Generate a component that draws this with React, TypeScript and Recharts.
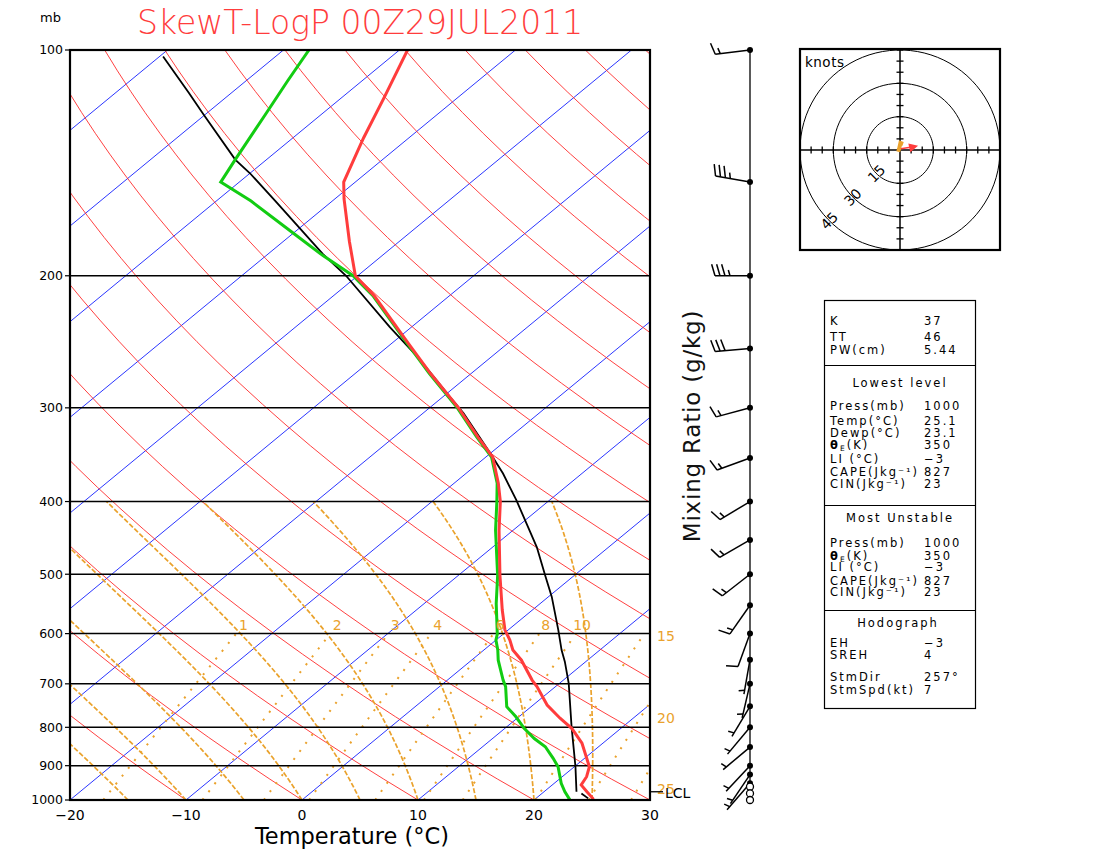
import React from 'react';
import { ComposedChart, Line, Scatter, XAxis, YAxis, ReferenceLine } from 'recharts';

const FONT = '"DejaVu Sans", "Liberation Sans", sans-serif';
const ORANGE = '#eaa22c';
const BLUE = '#2b36ff';
const RED_THIN = '#ff2b2b';
const TEMP_RED = '#ff3c3c';
const DEW_GREEN = '#12cc12';

// ---------------- axes ----------------
const tempTicks = [-20, -10, 0, 10, 20, 30];
const presTicks = [100, 200, 300, 400, 500, 600, 700, 800, 900, 1000];
const presLines = [200, 300, 400, 500, 600, 700, 800, 900];

// ---------------- diagram background (values of the reference lines) ----------------
const isotherms = [-90, -80, -70, -60, -50, -40, -30, -20, -10, 0, 10, 20];
const dryAdiabats = [-20, -10, 0, 10, 20, 30, 40, 50, 60, 70, 80, 90, 100, 110, 120, 130, 140, 150, 160];
const moistAdiabats = [-15, -10, -5, 0, 5, 10, 15, 20, 25];
const mixingRatios = [1, 2, 3, 4, 6, 8, 10, 15, 20, 25];
const mixLabelsInside = [1, 2, 3, 4, 6, 8, 10];
const mixLabelsOutside = [15, 20, 25];
const mixLabelsOutsideP = [604, 778, 968];
const lclP = 975;

// ---------------- sounding ----------------
const tempP = [1000, 995, 975, 955, 931, 903, 840, 803, 778, 747, 706, 692, 651, 631, 612, 593, 558, 502, 437, 400, 378, 349, 328, 300, 270, 246, 213, 200, 180, 158, 150, 131, 116, 100];
const tempC = [25.1, 24.9, 23.7, 22.5, 22.1, 21.3, 18.2, 15.8, 13.7, 11.2, 8.4, 7.3, 4.3, 2.5, 1.2, -0.3, -2.6, -6.4, -11.2, -14.1, -16.2, -19.4, -22.8, -27.5, -33.5, -38.6, -46.4, -50.2, -54.3, -59.2, -61.0, -63.9, -66.3, -69.3];

const dewP = [1000, 998, 975, 950, 903, 880, 849, 828, 803, 774, 751, 706, 692, 651, 631, 612, 601, 547, 502, 437, 400, 378, 349, 328, 300, 270, 246, 213, 200, 188, 175, 159, 150, 140, 122, 110, 100];
const dewC = [23.1, 23.0, 21.8, 20.6, 18.6, 17.3, 15.4, 13.6, 11.7, 9.7, 7.9, 5.7, 4.8, 2.3, 1.2, 0.0, -0.5, -3.8, -6.6, -11.5, -14.4, -16.3, -19.5, -22.9, -27.6, -33.6, -38.7, -46.5, -50.4, -55.1, -60.2, -67.0, -71.6, -72.7, -74.8, -76.4, -77.8];

const parcelP = [975, 903, 799, 699, 654, 631, 593, 536, 502, 460, 398, 367, 345, 305, 290, 259, 234, 200, 187, 173, 159, 146, 140, 122, 114, 102];
const parcelC = [22.8, 20.1, 15.6, 10.8, 8.2, 6.7, 4.3, 0.3, -2.5, -6.2, -12.9, -16.8, -20.0, -26.5, -29.4, -35.8, -41.9, -51.0, -55.3, -59.9, -64.9, -70.0, -72.7, -80.1, -83.7, -89.7];
const dryParcelP = [995, 980];
const dryParcelC = [24.5, 23.4];

// ---------------- winds ----------------
const windP = [100, 150, 200, 250, 300, 350, 400, 450, 500, 550, 600, 650, 700, 750, 800, 850, 900, 925, 950];
const windDir = [263, 280, 270, 265, 255, 250, 239, 240, 232, 215, 200, 190, 193, 211, 220, 230, 223, 214, 221];
const windSpd = [15, 35, 35, 30, 15, 15, 15, 15, 15, 15, 10, 5, 5, 5, 5, 5, 5, 5, 5];
const calmP = [960, 980, 1000];

// ---------------- hodograph ----------------
const hodoRings = [15, 30, 45];
const hodoU = [-0.8, -0.4, 0.2, 1.4];
const hodoV = [-0.8, 0.5, 3.2, 2.8];
const stormDir = 257;
const stormSpd = 7;

// ---------------- stability table ----------------
const idxNames = ['K', 'TT', 'PW(cm)'];
const idxVals = ['37', '46', '5.44'];
const lowNames = ['Press(mb)', 'Temp(°C)', 'Dewp(°C)', 'θE(K)', 'LI (°C)', 'CAPE(Jkg⁻¹)', 'CIN(Jkg⁻¹)'];
const lowVals = ['1000', '25.1', '23.1', '350', '−3', '827', '23'];
const muNames = ['Press(mb)', 'θE(K)', 'LI (°C)', 'CAPE(Jkg⁻¹)', 'CIN(Jkg⁻¹)'];
const muVals = ['1000', '350', '−3', '827', '23'];
const hodoNames = ['EH', 'SREH', 'StmDir', 'StmSpd(kt)'];
const hodoVals = ['−3', '4', '257°', '7'];

// ---------------- thermodynamic helpers (skew-T geometry) ----------------
const SKEW = 78.4;
const skewX = (t: number, p: number) => t + SKEW * Math.log10(1000 / p);
const toPts = (ps: number[], ts: number[]) => ps.map((p, i) => ({ x: skewX(ts[i], p), p }));

const logLevels = (pTop: number, n: number) => {
  const out: number[] = [];
  for (let k = 0; k <= n; k++) out.push(1000 * Math.pow(pTop / 1000, k / n));
  return out;
};

const isoData = (t: number) => [{ x: skewX(t, 1000), p: 1000 }, { x: skewX(t, 100), p: 100 }];
const dryData = (th: number) =>
  logLevels(100, 36).map((p) => ({ x: skewX((th + 273.15) * Math.pow(p / 1000, 0.2857) - 273.15, p), p }));

const lapse = (T: number, p: number) => {
  const es = 6.112 * Math.exp((17.67 * (T - 273.15)) / (T - 29.65));
  const rs = (0.622 * es) / (p - es);
  const Rd = 287.04, cp = 1005.7, L = 2.501e6, eps = 0.622;
  return (Rd * T + L * rs) / (p * (cp + (L * L * rs * eps) / (Rd * T * T)));
};
const moistData = (tw: number) => {
  const pts: { x: number; p: number }[] = [];
  let T = tw + 273.15;
  let p = 1000;
  const dp = -10;
  pts.push({ x: skewX(T - 273.15, p), p });
  while (p > 400 + 1e-6) {
    const k1 = lapse(T, p);
    const k2 = lapse(T + (k1 * dp) / 2, p + dp / 2);
    T += k2 * dp;
    p += dp;
    pts.push({ x: skewX(T - 273.15, p), p });
  }
  return pts;
};
const dewFromMix = (w: number, p: number) => {
  const e = (w * p) / (622 + w);
  const l = Math.log(e / 6.112);
  return (243.5 * l) / (17.67 - l);
};
const mixData = (w: number) => logLevels(600, 12).map((p) => ({ x: skewX(dewFromMix(w, p), p), p }));

const mixLabelData = [
  ...mixLabelsInside.map((w) => ({ x: skewX(dewFromMix(w, 584), 584), p: 584, label: String(w), anchor: 'middle', dx: 0 })),
  ...mixLabelsOutside.map((w, i) => ({ x: 30, p: mixLabelsOutsideP[i], label: String(w), anchor: 'start', dx: 7 })),
];

const fmtT = (v: number) => (v < 0 ? '\u2212' + Math.abs(v) : String(v));

const MixLabel = (props: any) => {
  const { cx, cy, payload } = props;
  if (cx == null || cy == null) return <g />;
  return (
    <text x={cx + payload.dx} y={cy + 5} textAnchor={payload.anchor} fontSize={14} fill={ORANGE} fontFamily={FONT}>
      {payload.label}
    </text>
  );
};

const LclMark = (props: any) => {
  const { cx, cy } = props;
  if (cx == null || cy == null) return <g />;
  return (
    <g>
      <line x1={cx} y1={cy} x2={cx + 13} y2={cy} stroke="#000" strokeWidth={1.3} />
      <text x={cx + 15} y={cy + 6} fontSize={14} fill="#000" fontFamily={FONT}>LCL</text>
    </g>
  );
};

const MainChart = () => {
  const common = { xAxisId: 'x', yAxisId: 'y', dataKey: 'p', dot: false, activeDot: false, isAnimationActive: false, type: 'linear' as const };
  return (
    <ComposedChart width={700} height={850} margin={{ top: 50, right: 50, left: 30, bottom: 10 }}>
      <XAxis xAxisId="x" dataKey="x" type="number" domain={[-20, 30]} allowDataOverflow ticks={tempTicks} interval={0}
        tickFormatter={fmtT} tickLine={false} axisLine={false} tickSize={8} height={40}
        tick={{ fontSize: 14, fill: '#000', fontFamily: FONT }} />
      <XAxis xAxisId="xf" dataKey="x" type="number" domain={[-20, 30]} hide />
      <YAxis yAxisId="y" dataKey="p" type="number" scale="log" domain={[100, 1000]} reversed allowDataOverflow
        ticks={presTicks} interval={0} width={40} tickSize={5} axisLine={false} tickLine={{ stroke: '#000', strokeWidth: 1.2 }}
        tick={{ fontSize: 12.5, fill: '#000', fontFamily: FONT }} />
      <YAxis yAxisId="yf" dataKey="p" type="number" scale="log" domain={[100, 1000]} reversed hide />

      {isotherms.map((t) => (
        <Line key={'iso' + t} {...common} data={isoData(t)} stroke={BLUE} strokeWidth={1} />
      ))}
      {dryAdiabats.map((th) => (
        <Line key={'dry' + th} {...common} data={dryData(th)} stroke={RED_THIN} strokeWidth={0.9} />
      ))}
      {moistAdiabats.map((tw) => (
        <Line key={'moist' + tw} {...common} data={moistData(tw)} stroke={ORANGE} strokeWidth={1.7} strokeDasharray="5 2" />
      ))}
      {mixingRatios.map((w) => (
        <Line key={'mix' + w} {...common} data={mixData(w)} stroke={ORANGE} strokeWidth={2} strokeDasharray="2 8" />
      ))}
      {presLines.map((p) => (
        <ReferenceLine key={'pl' + p} xAxisId="x" yAxisId="y" y={p} stroke="#000" strokeWidth={1.5} />
      ))}

      <Scatter xAxisId="xf" yAxisId="yf" data={mixLabelData} shape={MixLabel} isAnimationActive={false} />
      <Scatter xAxisId="xf" yAxisId="yf" data={[{ x: 30, p: lclP }]} shape={LclMark} isAnimationActive={false} />

      <Line {...common} data={toPts(parcelP, parcelC)} stroke="#000" strokeWidth={1.8} />
      <Line {...common} data={toPts(dryParcelP, dryParcelC)} stroke="#000" strokeWidth={1.8} />
      <Line {...common} data={toPts(dewP, dewC)} stroke={DEW_GREEN} strokeWidth={3} />
      <Line {...common} data={toPts(tempP, tempC)} stroke={TEMP_RED} strokeWidth={3} />
    </ComposedChart>
  );
};

// ---------------- wind barbs ----------------
const windData = [
  ...windP.map((p, i) => ({ x: 0.5, p, dir: windDir[i], spd: windSpd[i] })),
  ...calmP.map((p) => ({ x: 0.5, p, dir: 0, spd: 0 })),
];

const Barb = (props: any) => {
  const { cx, cy, payload } = props;
  if (cx == null || cy == null) return <g />;
  if (payload.spd === 0) {
    return <circle cx={cx} cy={cy} r={3.5} fill="#fff" stroke="#000" strokeWidth={1.3} />;
  }
  const rad = (payload.dir * Math.PI) / 180;
  const ux = Math.sin(rad);
  const uy = -Math.cos(rad);
  const L = 35;
  const tx = cx + ux * L;
  const ty = cy + uy * L;
  const fx = -uy * 0.96 + ux * 0.28;
  const fy = ux * 0.96 + uy * 0.28;
  const parts: any[] = [
    <line key="staff" x1={cx} y1={cy} x2={tx} y2={ty} stroke="#000" strokeWidth={1.5} />,
  ];
  const full = Math.floor(payload.spd / 10);
  const half = payload.spd % 10 >= 5;
  let pos = 0;
  for (let i = 0; i < full; i++) {
    const sx = tx - ux * pos;
    const sy = ty - uy * pos;
    parts.push(<line key={'f' + i} x1={sx} y1={sy} x2={sx + fx * 12} y2={sy + fy * 12} stroke="#000" strokeWidth={1.5} />);
    pos += 5;
  }
  if (half) {
    if (full === 0) pos = 4;
    const sx = tx - ux * pos;
    const sy = ty - uy * pos;
    parts.push(<line key="h" x1={sx} y1={sy} x2={sx + fx * 6} y2={sy + fy * 6} stroke="#000" strokeWidth={1.5} />);
  }
  parts.push(<circle key="dot" cx={cx} cy={cy} r={3} fill="#000" />);
  return <g>{parts}</g>;
};

const BarbChart = () => (
  <ComposedChart width={100} height={850} margin={{ top: 50, right: 0, left: 0, bottom: 50 }}>
    <XAxis dataKey="x" type="number" domain={[0, 1]} hide />
    <YAxis dataKey="p" type="number" scale="log" domain={[100, 1000]} reversed hide />
    <ReferenceLine x={0.5} stroke="#000" strokeWidth={1.3} />
    <Scatter data={windData} shape={Barb} isAnimationActive={false} />
  </ComposedChart>
);

// ---------------- hodograph ----------------
const ringData = (r: number) => {
  const out: { u: number; v: number }[] = [];
  for (let a = 0; a <= 360; a += 4) out.push({ u: r * Math.cos((a * Math.PI) / 180), v: r * Math.sin((a * Math.PI) / 180) });
  return out;
};
const hodoTicks: { u: number; v: number; dir: string }[] = [];
for (let k = -45; k <= 45; k += 5) {
  if (k === 0) continue;
  hodoTicks.push({ u: k, v: 0, dir: 'h' });
  hodoTicks.push({ u: 0, v: k, dir: 'v' });
}
const ringLabels = hodoRings.map((r) => ({ u: -r * Math.SQRT1_2, v: -r * Math.SQRT1_2, label: String(r) }));
const traceData = hodoU.map((u, i) => ({ u, v: hodoV[i] }));
const stormU = -stormSpd * Math.sin((stormDir * Math.PI) / 180);
const stormV = -stormSpd * Math.cos((stormDir * Math.PI) / 180);
const stormData = [{ u: 0.4, v: 0.6 }, { u: stormU, v: stormV }];

const TickShape = (props: any) => {
  const { cx, cy, payload } = props;
  if (cx == null) return <g />;
  return payload.dir === 'h' ? (
    <line x1={cx} y1={cy - 3.5} x2={cx} y2={cy + 3.5} stroke="#000" strokeWidth={1.3} />
  ) : (
    <line x1={cx - 3.5} y1={cy} x2={cx + 3.5} y2={cy} stroke="#000" strokeWidth={1.3} />
  );
};
const RingLabel = (props: any) => {
  const { cx, cy, payload } = props;
  if (cx == null) return <g />;
  return (
    <text x={cx} y={cy + 5} textAnchor="middle" fontSize={14} fontFamily={FONT} fill="#000"
      transform={`rotate(-45 ${cx} ${cy})`}>{payload.label}</text>
  );
};
const ArrowHead = (props: any) => {
  const { cx, cy, index } = props;
  if (index !== 1 || cx == null) return <g key={'a' + index} />;
  const ang = Math.atan2(-stormV, stormU);
  const c = Math.cos(ang), s = Math.sin(ang);
  const pt = (a: number, b: number) => `${cx + a * c - b * s},${cy + a * s + b * c}`;
  return <polygon key="ah" points={`${pt(3, 0)} ${pt(-6, -4.5)} ${pt(-6, 4.5)}`} fill={TEMP_RED} />;
};

const Hodograph = () => (
  <ComposedChart width={200} height={200} margin={{ top: 0, right: 0, left: 0, bottom: 0 }}>
    <XAxis dataKey="u" type="number" domain={[-45, 45]} hide />
    <YAxis dataKey="v" type="number" domain={[-45, 45]} hide />
    <ReferenceLine x={0} stroke="#000" strokeWidth={1.5} />
    <ReferenceLine y={0} stroke="#000" strokeWidth={1.5} />
    {hodoRings.map((r) => (
      <Line key={'ring' + r} data={ringData(r)} dataKey="v" dot={false} activeDot={false} stroke="#000" strokeWidth={1} isAnimationActive={false} type="linear" />
    ))}
    <Scatter data={hodoTicks} shape={TickShape} isAnimationActive={false} />
    <Scatter data={ringLabels} shape={RingLabel} isAnimationActive={false} />
    <Line data={traceData} dataKey="v" dot={false} activeDot={false} stroke={ORANGE} strokeWidth={4} isAnimationActive={false} type="linear" />
    <Line data={stormData} dataKey="v" dot={ArrowHead} activeDot={false} stroke={TEMP_RED} strokeWidth={1.6} isAnimationActive={false} type="linear" />
  </ComposedChart>
);

// ---------------- text / table overlay ----------------
const nameNode = (name: string) =>
  name.startsWith('θE') ? (
    <>
      <tspan fontWeight="bold">θ</tspan>
      <tspan fontSize={7.5} dy={2.5}>E</tspan>
      <tspan dy={-2.5}>{name.slice(2)}</tspan>
    </>
  ) : (
    name
  );

const Overlay = () => {
  const tStyle = { fontSize: 11.5, fontFamily: FONT, fill: '#000', letterSpacing: 2 } as any;
  const rows = (names: string[], vals: string[], ys: number[]) =>
    names.map((n, i) => (
      <g key={n + ys[i]}>
        <text x={830} y={ys[i] + 4.5} style={tStyle}>{nameNode(n)}</text>
        <text x={924} y={ys[i] + 4.5} style={tStyle}>{vals[i]}</text>
      </g>
    ));
  return (
    <svg width={1100} height={850} style={{ position: 'absolute', left: 0, top: 0, pointerEvents: 'none' }}>
      <text x={137} y={34} fontSize={33} fontFamily={FONT} fontWeight={300} fill={TEMP_RED}>SkewT-LogP 00Z29JUL2011</text>
      <text x={40} y={22} fontSize={13} fontFamily={FONT} fill="#000">mb</text>
      <text x={352} y={844} textAnchor="middle" fontSize={22.5} fontFamily={FONT} fill="#000">Temperature (°C)</text>
      <text x={700} y={426} textAnchor="middle" fontSize={23} fontFamily={FONT} fill="#111" transform="rotate(-90 700 426)"
        style={{ letterSpacing: 0.8 }}>Mixing Ratio (g/kg)</text>
      <rect x={70} y={50} width={580} height={750} fill="none" stroke="#000" strokeWidth={2.2} />

      <rect x={800} y={49} width={200} height={201} fill="none" stroke="#000" strokeWidth={2.2} />
      <text x={805} y={67} fontSize={13.5} fontFamily={FONT} fill="#000" style={{ letterSpacing: 0.5 }}>knots</text>

      <rect x={824.5} y={300.5} width={151} height={408} fill="none" stroke="#000" strokeWidth={1.2} />
      <line x1={824.5} x2={975.5} y1={365.5} y2={365.5} stroke="#000" strokeWidth={1.2} />
      <line x1={824.5} x2={975.5} y1={505.5} y2={505.5} stroke="#000" strokeWidth={1.2} />
      <line x1={824.5} x2={975.5} y1={610.5} y2={610.5} stroke="#000" strokeWidth={1.2} />
      {rows(idxNames, idxVals, [320, 336.7, 349])}
      <text x={900} y={387.2} textAnchor="middle" style={tStyle}>Lowest level</text>
      {rows(lowNames, lowVals, [405, 420, 432.3, 444.3, 458.3, 471, 483.3])}
      <text x={900} y={522.2} textAnchor="middle" style={tStyle}>Most Unstable</text>
      {rows(muNames, muVals, [542.3, 555, 566.7, 580, 591.7])}
      <text x={898} y={626.8} textAnchor="middle" style={tStyle}>Hodograph</text>
      {rows(hodoNames, hodoVals, [642.7, 654.3, 676.7, 689.3])}
    </svg>
  );
};

export default function App() {
  return (
    <div style={{ position: 'absolute', left: 0, top: 0, width: 1100, height: 850, background: '#fff', overflow: 'hidden' }}>
      <div style={{ position: 'absolute', left: 0, top: 0 }}>
        <MainChart />
      </div>
      <div style={{ position: 'absolute', left: 700, top: 0 }}>
        <BarbChart />
      </div>
      <div style={{ position: 'absolute', left: 800, top: 50 }}>
        <Hodograph />
      </div>
      <Overlay />
    </div>
  );
}
